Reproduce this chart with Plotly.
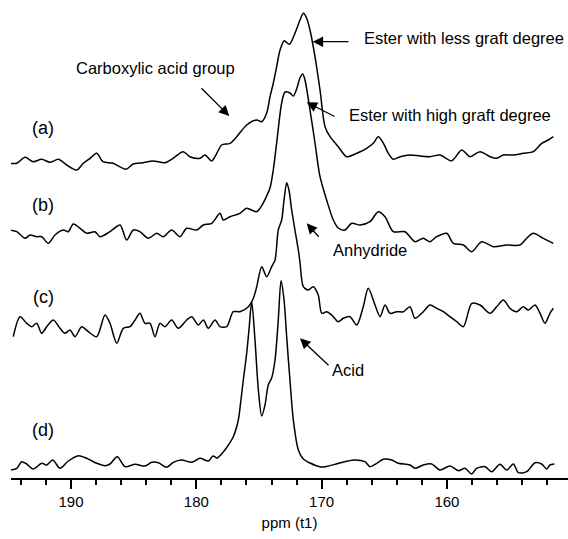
import plotly.graph_objects as go

# ---- data (ppm, intensity relative to each trace's own baseline) ----
ppm_a = [194.87, 194.33, 193.67, 193.01, 192.34, 191.68, 191.01, 190.34, 189.55, 189.02,
         188.48, 187.95, 187.45, 186.65, 185.61, 185.05, 184.26, 183.46, 182.50, 181.86,
         181.06, 180.51, 179.71, 179.31, 178.77, 178.37, 177.98, 177.31, 176.78, 175.98,
         175.18, 174.78, 174.39, 174.12, 173.86, 173.59, 173.32, 172.98, 172.58, 172.13,
         171.73, 171.46, 171.20, 170.93, 170.53, 170.13, 169.73, 169.33, 168.67, 168.00,
         167.20, 166.41, 165.88, 165.48, 165.07, 164.68, 164.28, 163.74, 162.95, 162.15,
         161.36, 160.56, 159.62, 158.82, 158.16, 157.36, 156.56, 156.03, 155.50, 154.70,
         153.91, 153.11, 152.44, 151.91, 151.51]
int_a = [-3.3, -3.3, 2.7, -1.7, 0.7, -2.3, 0.7, -5, -10, -3.3,
         1.7, 6.7, -1.7, -3.3, -9.3, -4, -2.7, -1, -2.7, 1.7,
         8.3, 3.3, 1.7, 5, -1, 6.7, 15, 16.7, 23.3, 35,
         40, 38.3, 46.7, 63.3, 76.7, 93.3, 110, 119.3, 115.7, 126.7,
         140, 146.7, 142, 130, 103.3, 70, 33.3, 23.3, 13.3, 3.3,
         6.7, 11.7, 16.7, 23.3, 16.7, 6.7, 0.7, 3.3, 5, 4,
         3.3, 5, -0.7, 10, 3.3, 8.3, 3.3, 1.7, 5, 5,
         6.7, 8.3, 16.7, 20, 23.3]

ppm_b = [194.87, 194.33, 193.67, 193.27, 192.74, 192.34, 191.81, 191.28, 190.62, 190.22,
         189.82, 189.28, 188.75, 188.09, 187.69, 186.89, 186.09, 185.56, 185.03, 184.50,
         183.83, 183.16, 182.64, 181.97, 181.30, 180.77, 179.97, 179.44, 178.77, 178.11,
         177.85, 177.31, 176.52, 175.98, 175.18, 174.66, 174.39, 174.12, 173.86, 173.59,
         173.19, 172.92, 172.53, 172.26, 171.97, 171.73, 171.51, 171.33, 170.93, 170.53,
         170.13, 169.60, 169.07, 168.67, 168.14, 167.60, 166.94, 166.14, 165.48, 164.94,
         164.28, 163.35, 162.55, 161.89, 161.36, 160.82, 160.02, 159.49, 158.69, 158.02,
         157.23, 156.30, 155.23, 154.17, 153.64, 153.11, 152.31, 151.51]
int_b = [2, 0.3, -6.3, -3, -4.7, -4.7, -11.3, -3, 2, 0.3,
         8, 3.7, -1.3, 0.3, -4.7, 0.3, 7, -8, 2, 0.3,
         -6.3, -1.3, -4.7, 2, -4.7, 3.7, 2, 7, 8.7, 18.7,
         12, 15.3, 18.7, 23.7, 20.3, 29, 36, 44, 62, 89,
         129, 140, 139, 136, 144, 154, 158, 152, 122, 89,
         55.3, 32, 12, 4, 2, 8.7, 7, 10.3, 20.3, 15.3,
         0.3, 0.3, -9.7, -6.3, -9.7, -4.7, -1.3, -11.3, -13, -19.7,
         -9.7, -14.7, -13, -13, -6.3, -1.3, -6.3, -11.3]

ppm_c = [194.61, 194.07, 193.54, 193.14, 192.74, 192.34, 191.94, 191.41, 190.88, 190.48,
         190.08, 189.68, 189.15, 188.62, 187.95, 187.29, 186.89, 186.35, 185.83, 185.29,
         184.89, 184.50, 184.10, 183.70, 183.30, 182.90, 182.50, 181.97, 181.44, 180.77,
         180.37, 179.84, 179.44, 179.04, 178.51, 178.11, 177.58, 177.05, 176.52, 175.85,
         175.45, 175.18, 174.78, 174.39, 173.99, 173.72, 173.46, 173.19, 173.00, 172.79,
         172.61, 172.39, 172.13, 171.86, 171.73, 171.46, 171.06, 170.67, 170.27, 169.99,
         169.60, 169.20, 168.67, 168.27, 167.74, 167.20, 166.68, 166.28, 165.74, 165.34,
         164.94, 164.55, 164.01, 163.48, 162.95, 162.55, 161.89, 161.36, 160.82, 160.29,
         159.76, 159.22, 158.69, 158.02, 157.36, 156.56, 156.03, 155.50, 154.97, 154.43,
         153.91, 153.51, 152.97, 152.57, 152.18, 151.78, 151.51]
int_c = [-16.7, 3.3, -3.3, -6.7, -3.3, -13.3, -6.7, 0, -8.3, -13.3,
         -10, -16.7, -6.7, -11.7, -16.7, 5, -3.3, -23.3, -8.3, -6.7,
         0, 6.7, -3.3, -3.3, -16.7, -3.3, -6.7, 0, -8.3, 0,
         3.3, -5, 0, -8.3, 0, -6.7, -6.7, 8.3, 8.3, 13.3,
         21.7, 33.3, 53.3, 43.3, 53.3, 60, 90, 100, 120, 137.3,
         130, 110, 90, 70, 58, 33.3, 30, 33.3, 25, 6.7,
         8.3, 5, -1.7, 1.7, 3.3, -5, 13.3, 31.7, 15, 3.3,
         15, 6.7, 8.3, 8.3, 13.3, 1.7, 8.3, 15, 11.7, 8.3,
         3.3, -1.7, -6.7, 16.7, 15, 6.7, 13.3, 20, 11.7, 8.3,
         13.3, 10, 15, 6.7, -3.3, 6.7, 11.7]

ppm_d = [194.81, 194.33, 193.94, 193.54, 193.01, 192.34, 191.94, 191.46, 190.88, 190.22,
         189.42, 188.75, 187.95, 187.29, 186.89, 186.31, 185.69, 184.89, 184.10, 183.56,
         183.03, 182.37, 181.84, 181.17, 180.37, 179.71, 179.04, 178.67, 178.35, 177.85,
         177.55, 177.05, 176.65, 176.44, 176.25, 175.98, 175.80, 175.58, 175.32, 175.05,
         174.78, 174.52, 174.26, 173.99, 173.72, 173.46, 173.24, 173.00, 172.79, 172.53,
         172.26, 171.86, 171.46, 170.93, 170.13, 169.73, 168.62, 167.42, 166.54, 166.14,
         165.61, 165.07, 164.41, 163.88, 162.95, 162.55, 161.89, 161.22, 160.56, 159.76,
         159.09, 158.56, 158.02, 157.63, 156.96, 156.43, 155.77, 155.23, 154.70, 154.30,
         153.64, 152.97, 152.44, 152.04, 151.78, 151.43]
int_d = [-5, -3.3, 3.3, 1, -4, 1.7, 0, 5, -3.3, 4,
         9.3, 6.7, 1.7, -0.7, 1, 8.3, -1.7, 0.7, -1, 2.7,
         2.3, -2.3, 2.7, 5, 2.7, 6.7, 4, 9, 7, 13,
         18, 28.3, 45, 65, 85, 112, 135, 163.3, 125, 75,
         49, 60, 80, 87, 105, 145, 184.3, 165, 128.3, 85,
         45, 15, 6, 2, -1.7, -1.7, 1.7, 5, 3.3, -1.7,
         1.7, 5.7, 5, 1.7, 0, -3.3, 0, 1, -5, -1,
         -5.7, -3.3, -9, -3.3, -1.7, -6.7, 0.7, -5, 1, -7.7,
         -6.7, 2.3, 1, -4, 0, 1]

labels = ["(a)", "(b)", "(c)", "(d)"]
offsets = [318, 246, 158, 13]
label_rise = [32, 27, 23, 35]
tick_vals = [190, 180, 170, 160]
tick_text = ["190", "180", "170", "160"]

FONT = "Liberation Sans, Arial, Helvetica, sans-serif"

fig = go.Figure()
for px, iy, off in zip([ppm_a, ppm_b, ppm_c, ppm_d], [int_a, int_b, int_c, int_d], offsets):
    fig.add_trace(go.Scatter(
        x=px, y=[v + off for v in iy], mode="lines",
        line=dict(color="black", width=1.5, shape="spline", smoothing=0.8),
        showlegend=False, hoverinfo="skip"))

# trace labels
for lab, off, rise in zip(labels, offsets, label_rise):
    fig.add_annotation(x=192.22, y=off + rise, text=lab,
                       showarrow=False, font=dict(family=FONT, size=18, color="black"))

# text annotations with arrows: (text, text_x, text_y, tail_x, tail_y, head_x, head_y)
notes = [
    ("Carboxylic acid group", 183.22, 409.7, 179.71, 391.3, 177.37, 362.0),
    ("Ester with less graft degree", 158.64, 440.3, 167.74, 436.3, 170.71, 436.3),
    ("Ester with high graft degree", 159.72, 363.0, 168.85, 360.7, 171.19, 375.7),
    ("Anhydride", 166.16, 228.0, 170.13, 239.7, 171.19, 254.7),
    ("Acid", 167.87, 108.0, 169.33, 111.3, 171.73, 139.7),
]
for txt, tx, ty, axx, ayy, hx, hy in notes:
    fig.add_annotation(x=tx, y=ty, text=txt, showarrow=False,
                       font=dict(family=FONT, size=16.5, color="black"))
    fig.add_annotation(x=hx, y=hy, ax=axx, ay=ayy, axref="x", ayref="y", text="",
                       showarrow=True, arrowhead=2, arrowsize=1.6, arrowwidth=1.3,
                       arrowcolor="black", standoff=0, startstandoff=0)

fig.update_layout(
    width=568, height=539,
    margin=dict(l=11, r=0, t=0, b=61),
    paper_bgcolor="white", plot_bgcolor="white",
    font=dict(family=FONT, color="black"),
    xaxis=dict(range=[194.79, 150.34], showgrid=False, zeroline=False,
               showline=True, linecolor="black", linewidth=2,
               tickmode="array", tickvals=tick_vals, ticktext=tick_text,
               ticks="outside", ticklen=9, tickwidth=1.5, tickcolor="black",
               tickfont=dict(family=FONT, size=15, color="black"),
               minor=dict(dtick=2, tick0=0, ticks="outside", ticklen=5,
                          tickwidth=1.5, tickcolor="black", showgrid=False),
               title=dict(text="ppm (t1)", font=dict(family=FONT, size=15, color="black"),
                          standoff=8),
               fixedrange=True),
    yaxis=dict(range=[0, 478], visible=False, fixedrange=True),
)

fig.write_html("out.html")
